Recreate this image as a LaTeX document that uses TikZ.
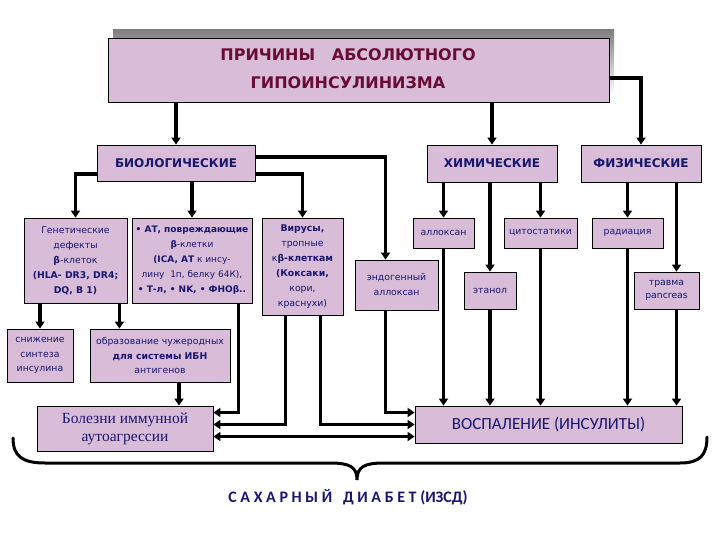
\documentclass[tikz,border=0pt]{standalone}
\usepackage{fontspec}
\setmainfont{DejaVu Sans}
\newfontfamily\serifface{Liberation Serif}
\newfontfamily\calib{Carlito}
\usetikzlibrary{arrows.meta}
\definecolor{boxpink}{RGB}{216,188,216}
\definecolor{ink}{RGB}{24,22,110}
\definecolor{wine}{RGB}{105,12,52}
\definecolor{shade}{RGB}{128,128,128}

\begin{document}
\begin{tikzpicture}[x=1pt,y=-1pt,line join=miter,
  box/.style={draw,fill=boxpink,line width=0.8pt,inner sep=1pt,align=center,text=ink},
  head/.style={box,font=\fontsize{12}{15}\selectfont\bfseries},
  small/.style={box,font=\fontsize{9.3}{15}\selectfont},
  arr/.style={line width=3.2pt,-{Triangle[width=9pt,length=7pt]}},
  both/.style={line width=3.2pt,{Triangle[width=9pt,length=7pt]}-{Triangle[width=9pt,length=7pt]}}]

\useasboundingbox[fill=white] (0,0) rectangle (720,540);

\fill[shade] (113,30) rectangle (614,95);
\node[box,minimum width=501pt,minimum height=64pt] (title) at (358.5,70) {};
\node[text=wine,align=center,font=\fontsize{16}{28}\selectfont\bfseries] (titletext) at (348,69)
  {ПРИЧИНЫ\ \ \ АБСОЛЮТНОГО\\ГИПОИНСУЛИНИЗМА};

\node[head,minimum width=158pt,minimum height=36pt] (bio) at (176,163) {БИОЛОГИЧЕСКИЕ};
\node[head,minimum width=130pt,minimum height=37pt,text depth=-6pt] (chem) at (492,163.5) {ХИМИЧЕСКИЕ};
\node[head,minimum width=120pt,minimum height=37pt] (phys) at (641,163.5) {ФИЗИЧЕСКИЕ};

\node[small,minimum width=103pt,minimum height=85pt] (gen) at (75.5,260.5)
  {Генетические\\дефекты\\\textbf{β}-клеток\\\textbf{(HLA- DR3, DR4;}\\\textbf{DQ, B 1)}};
\node[small,minimum width=120pt,minimum height=85pt,font=\fontsize{9}{15}\selectfont] (at) at (192,260.5)
  {\textbf{• АТ, повреждающие}\\\textbf{β}-клетки\\\textbf{(ICA, АТ} к инсу-\\лину\ \ 1п, белку 64К),\\\textbf{• Т-л, • NK, • ФНОβ..}};
\node[small,minimum width=81pt,minimum height=97pt] (vir) at (302.5,266.5)
  {\textbf{Вирусы,}\\тропные\\к\textbf{β-клеткам}\\\textbf{(Коксаки,}\\кори,\\краснухи)};
\node[small,minimum width=83pt,minimum height=50pt] (endo) at (396.5,285) {эндогенный\\аллоксан};
\node[small,minimum width=61pt,minimum height=30pt] (allox) at (443.5,233) {аллоксан};
\node[small,minimum width=73pt,minimum height=30pt] (cyto) at (540.5,233) {цитостатики};
\node[small,minimum width=71pt,minimum height=30pt] (rad) at (627.5,233) {радиация};
\node[small,minimum width=52pt,minimum height=37pt] (etanol) at (490,290.5) {этанол};
\node[small,minimum width=65pt,minimum height=37pt,font=\fontsize{9.3}{13}\selectfont] (trauma) at (666.5,290.5) {травма\\pancreas};

\node[small,minimum width=66pt,minimum height=53pt,font=\fontsize{9.3}{14.5}\selectfont] (sniz) at (40,355.5)
  {снижение\\синтеза\\инсулина};
\node[small,minimum width=140pt,minimum height=53pt,font=\fontsize{9.3}{14.5}\selectfont] (obraz) at (160,355.5)
  {образование чужеродных\\\textbf{для системы ИБН}\\антигенов};

\node[box,minimum width=176pt,minimum height=45pt,font=\serifface\fontsize{15.5}{18}\selectfont] (bolez) at (125,428.5)
  {Болезни иммунной\\аутоагрессии};
\node[box,minimum width=267pt,minimum height=37pt,font=\calib\fontsize{17}{18}\selectfont] (vosp) at (548.5,424.5)
  {ВОСПАЛЕНИЕ (ИНСУЛИТЫ)};

\node[text=ink,font=\calib\fontsize{16}{18}\selectfont\bfseries] (sd) at (348,497)
  {С А Х А Р Н Ы Й\ \ \ Д И А Б Е Т (ИЗСД)};

\draw[arr] (title.south -| bio.north) -- (bio.north);
\draw[arr] (title.south -| chem.north) -- (chem.north);
\draw[arr] ([yshift=-8pt]title.east) -| (phys.north);

\draw[arr] ([yshift=-11pt]bio.west) -| (gen.north);
\draw[arr] (bio.south -| at.north) -- (at.north);
\draw[arr] ([yshift=-11pt]bio.east) -| (vir.north);
\draw[arr] ([yshift=6pt]bio.east) -| ([xshift=-11pt]endo.north);

\draw[arr] (chem.south -| allox.north) -- (allox.north);
\draw[arr] (chem.south -| etanol.north) -- (etanol.north);
\draw[arr] (chem.south -| cyto.north) -- (cyto.north);

\coordinate (tr) at ([xshift=10pt]trauma.north);
\draw[arr] (phys.south -| rad.north) -- (rad.north);
\draw[arr] (phys.south -| tr) -- (tr);

\coordinate (g2) at ([xshift=-8pt]gen.south east);
\coordinate (o1) at ([xshift=19pt]obraz.south);
\draw[arr] (gen.south -| sniz.north) -- (sniz.north);
\draw[arr] (g2) -- (g2 |- obraz.north);
\draw[arr] (o1) -- (o1 |- bolez.north);

\coordinate (a1) at ([xshift=-14pt]at.south east);
\coordinate (v1) at ([xshift=24pt]vir.south west);
\coordinate (v2) at ([xshift=-23pt]vir.south east);
\coordinate (e1) at ([xshift=-11pt]endo.south);
\draw[arr] (a1) |- ([yshift=12pt]vosp.west -| bolez.east);
\draw[arr] (v1) |- (vosp.west -| bolez.east);
\draw[arr] (v2) |- (vosp.west);
\draw[arr] (e1) |- ([yshift=12pt]vosp.west);
\draw[both] ([yshift=-12pt]vosp.west -| bolez.east) -- ([yshift=-12pt]vosp.west);

\coordinate (tr2) at ([xshift=10pt]trauma.south);
\draw[arr] (allox.south) -- (allox.south |- vosp.north);
\draw[arr] (etanol.south) -- (etanol.south |- vosp.north);
\draw[arr] (cyto.south) -- (cyto.south |- vosp.north);
\draw[arr] (rad.south) -- (rad.south |- vosp.north);
\draw[arr] (tr2) -- (tr2 |- vosp.north);

\draw[line width=3pt,line cap=round] (13,438) .. controls (13,456) and (22,463) .. (45,463)
  -- (330,463) .. controls (350,463) and (357,467) .. (357,480)
  .. controls (357,467) and (364,463) .. (384,463)
  -- (680,463) .. controls (700,463) and (707,455) .. (707,437);
\end{tikzpicture}
\end{document}
